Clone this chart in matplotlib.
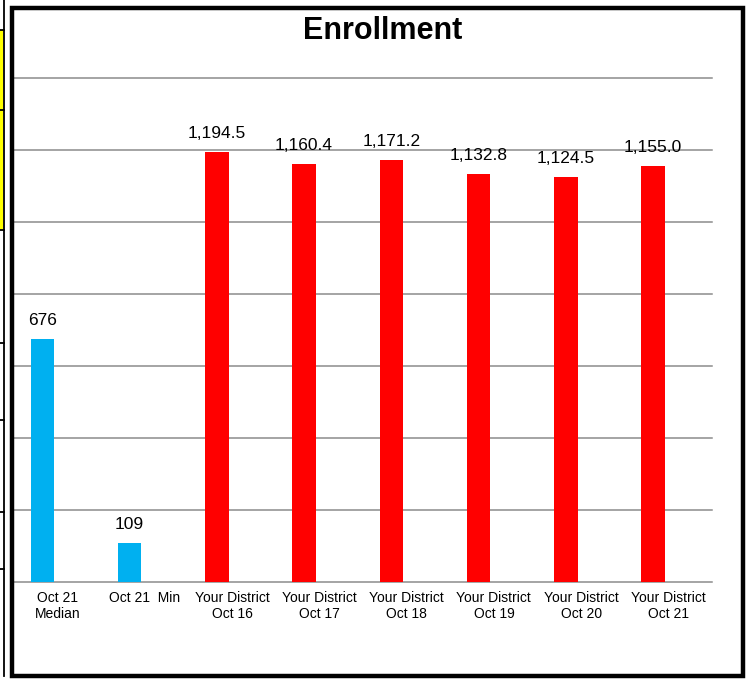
import matplotlib.pyplot as plt
from matplotlib.patches import Rectangle
from matplotlib.lines import Line2D

plt.rcParams['font.family'] = ['Liberation Sans', 'DejaVu Sans']

# --- Data ---
categories = ["Oct 21\nMedian", "Oct 21  Min",
              "Your District\nOct 16", "Your District\nOct 17",
              "Your District\nOct 18", "Your District\nOct 19",
              "Your District\nOct 20", "Your District\nOct 21"]
values = [676, 109, 1194.5, 1160.4, 1171.2, 1132.8, 1124.5, 1155.0]
decimals = [0, 0, 1, 1, 1, 1, 1, 1]
colors = ["#00B0F0", "#00B0F0"] + ["#FF0000"] * 6

W, H = 750, 679
fig = plt.figure(figsize=(W / 100, H / 100), dpi=100)

def px(x, y):
    return x / W, 1 - y / H

# --- leftover spreadsheet cells at the left edge ---
fig.add_artist(Rectangle(px(0, 230), 3 / W, 200 / H, transform=fig.transFigure,
                         facecolor="#FFFF00", edgecolor="none"))
fig.add_artist(Line2D([4 / W, 4 / W], [1, 1 - 676 / H], transform=fig.transFigure,
                      color="black", lw=1.3))
for yy in [30, 110, 230, 343, 420, 512, 569]:
    fig.add_artist(Line2D([0, 4 / W], [1 - yy / H] * 2, transform=fig.transFigure,
                          color="black", lw=1.3))

# --- axes ---
ax = fig.add_axes([14 / W, 97 / H, 698 / W, 504 / H])
x = list(range(len(values)))
shift = 0.175  # bars sit left of the category centre (empty second series slot)
ax.bar([xi - shift for xi in x], values, width=0.27, color=colors, zorder=3)
ax.set_ylim(0, 1400)
ax.set_xlim(-0.5, 7.5)
ax.set_yticks(range(0, 1401, 200))
ax.yaxis.grid(True, color="#8C8C8C", lw=1.1, zorder=1)
for gl in ax.get_ygridlines():
    gl.set_clip_on(False)
ax.tick_params(axis="y", left=False, labelleft=False)
ax.tick_params(axis="x", length=0, pad=6.5)
ax.set_xticks(x)
ax.set_xticklabels(categories, fontsize=10)
for s in ax.spines.values():
    s.set_visible(False)

for xi, v, d in zip(x, values, decimals):
    ax.annotate(f"{v:,.{d}f}", (xi - shift, v), xytext=(0, 8), textcoords="offset points",
                ha="center", va="bottom", fontsize=12.5, zorder=4)

fig.text(383 / W, 1 - 31 / H, "Enrollment", ha="center", va="center",
         fontsize=22, fontweight="bold")

# --- outer frame ---
fig.add_artist(Rectangle(px(12, 676), 731 / W, 668 / H, transform=fig.transFigure,
                         facecolor="none", edgecolor="black", lw=3.2))

fig.savefig("out.png", dpi=100)
